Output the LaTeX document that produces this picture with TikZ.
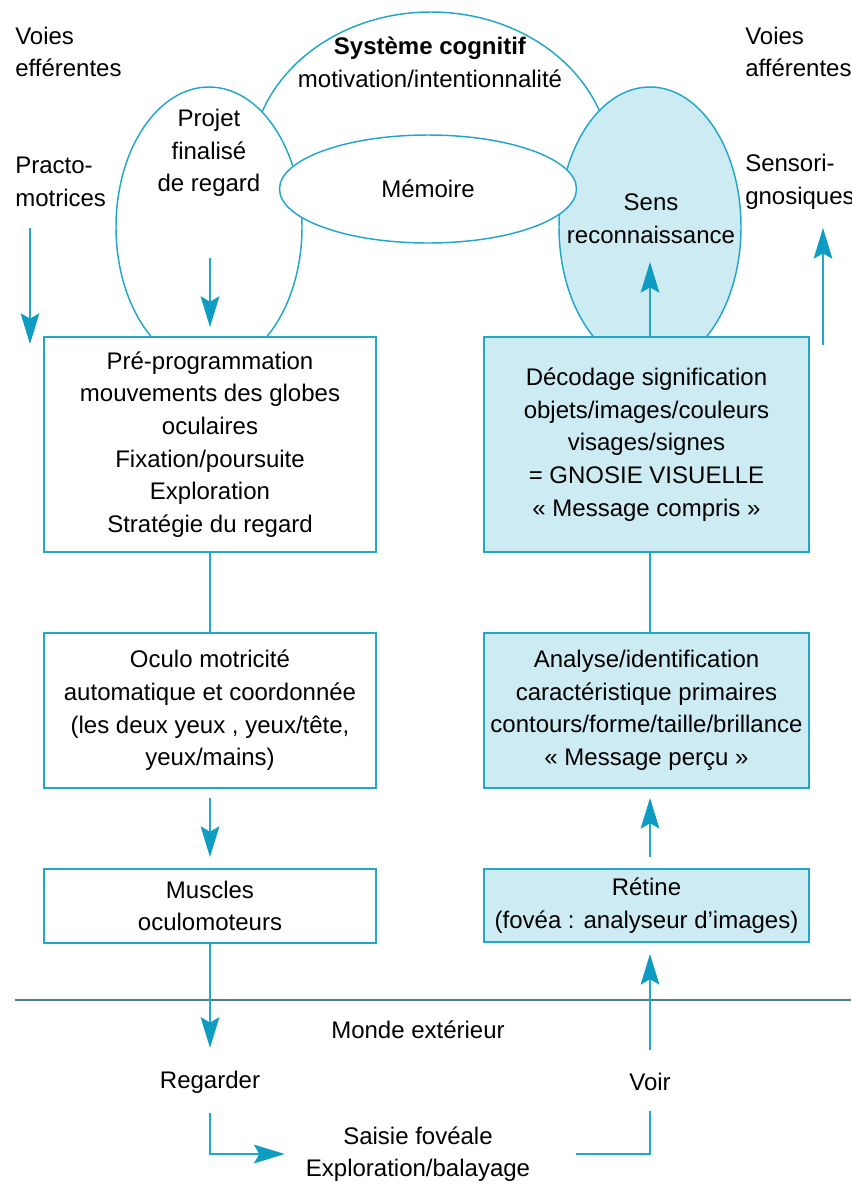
\documentclass[tikz,border=0pt]{standalone}
\usepackage{fontspec}
\setmainfont{Liberation Sans}
\usetikzlibrary{arrows.meta,shapes.geometric,calc}
\definecolor{cyanline}{HTML}{22A7CB}
\definecolor{cyantip}{HTML}{0E9CC2}
\definecolor{lightblue}{HTML}{CDEBF3}
\definecolor{worldline}{HTML}{4E7E8E}
\begin{document}
\begin{tikzpicture}[x=0.75pt,y=-0.75pt,
  font=\fontsize{18}{24.5}\selectfont,
  ell/.style={ellipse, draw=cyanline, line width=1.1pt, inner sep=0pt},
  boxw/.style={rectangle, draw=cyanline, line width=1.4pt, fill=white, align=center, inner sep=0pt},
  boxb/.style={boxw, fill=lightblue},
  txt/.style={align=center, inner sep=0pt},
  ltxt/.style={align=left, inner sep=0pt, anchor=west},
  con/.style={draw=cyanline, line width=1.4pt},
  arr/.style={con, -{Stealth[length=23pt,width=14pt,inset=4pt,color=cyantip]}},
]
\useasboundingbox (0,0) rectangle (851,1186);

% ellipses
\begin{scope}
\clip (0,0) rectangle (851,200);
\node[ell, fill=white, minimum width=270pt, minimum height=229.5pt] (cog) at (431,165) {};
\end{scope}
\node[ell, fill=white, minimum width=139.5pt, minimum height=210pt] (proj) at (209,227) {};
\node[ell, fill=lightblue, minimum width=136.5pt, minimum height=210pt] (sens) at (650,227) {};
\node[ell, fill=white, minimum width=222.75pt, minimum height=81pt] (mem) at (428,189) {Mémoire};

% top texts
\node[txt] (cogt) at (430,62) {\textbf{Système cognitif}\\motivation/intentionnalité};
\node[txt] (projt) at (209,153) {Projet\\finalisé\\de regard};
\node[txt] (senst) at (651,219) {Sens\\reconnaissance};
\node[ltxt] (voiesE) at (15,52) {Voies\\efférentes};
\node[ltxt] (practo) at (15,182) {Practo-\\motrices};
\node[ltxt] (voiesA) at (745,52) {Voies\\afférentes};
\node[ltxt] (sensori) at (745,182) {Sensori-\\gnosiques};

% left column boxes
\node[boxw, minimum width=249pt, minimum height=161.25pt] (pre) at (210,444.5)
  {Pré-programmation\\mouvements des globes\\oculaires\\Fixation/poursuite\\Exploration\\Stratégie du regard};
\node[boxw, minimum width=249pt, minimum height=116.25pt] (oculo) at (210,710.5)
  {Oculo motricité\\automatique et coordonnée\\(les deux yeux , yeux/tête,\\yeux/mains)};
\node[boxw, minimum width=249pt, minimum height=55.5pt] (muscles) at (210,906)
  {Muscles\\oculomoteurs};

% right column boxes
\node[boxb, minimum width=243.75pt, minimum height=161.25pt] (decod) at (646.5,444.5)
  {Décodage signification\\objets/images/couleurs\\visages/signes\\= GNOSIE VISUELLE\\« Message compris »};
\node[boxb, minimum width=243.75pt, minimum height=116.25pt] (analyse) at (646.5,710.5)
  {Analyse/identification\\caractéristique primaires\\contours/forme/taille/brillance\\« Message perçu »};
\node[boxb, minimum width=243.75pt, minimum height=54.75pt] (retine) at (646.5,905.5)
  {Rétine\\(fovéa : analyseur d'images)};

% bottom
\draw[worldline, line width=2pt] (15,1000) -- (851,1000);
\node[txt] (monde) at (418,1030) {Monde extérieur};
\node[txt] (regarder) at (210,1082) {Regarder};
\node[txt] (voir) at (650,1082) {Voir};
\node[txt] (saisie) at (418,1154) {Saisie fovéale\\Exploration/balayage};

% free-end coordinates
\coordinate (pmA) at (30,228);
\coordinate (pmB) at (30,344);
\coordinate (projA) at (210,258);
\coordinate (sensTip) at (650,262);
\coordinate (snA) at (823,345);
\coordinate (snB) at (823,228);

% connectors
\draw[arr] (pmA) -- (pmB);
\draw[arr, shorten >=6.75pt] (projA) -- (pre.north);
\draw[arr] (decod.north -| sens) -- (sensTip);
\draw[arr] (snA) -- (snB);
\draw[con] (pre.south) -- (oculo.north);
\draw[arr, shorten <=6.75pt, shorten >=8.25pt] (oculo.south) -- (muscles.north);
\draw[arr, shorten >=17pt] (muscles.south) -- (regarder.north);
\draw[arr, shorten <=15pt, shorten >=15.75pt] (regarder.south) |- (saisie.west);
\draw[con, shorten <=34pt, shorten >=15pt] (saisie.east) -| (voir.south);
\draw[arr, shorten <=17.25pt, shorten >=8.25pt] (voir.north) -- (retine.south -| voir);
\draw[arr, shorten <=8.25pt, shorten >=6.75pt] (retine.north -| sens) -- (analyse.south -| sens);
\draw[con] (analyse.north -| sens) -- (decod.south -| sens);
\end{tikzpicture}
\end{document}
